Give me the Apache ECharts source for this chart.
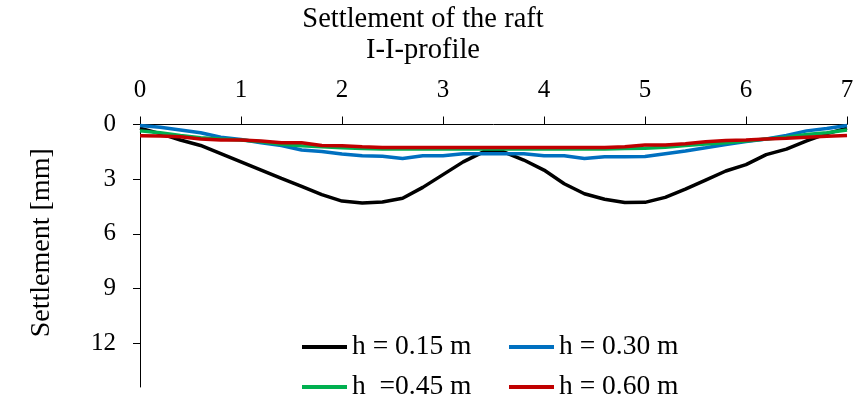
<!DOCTYPE html>
<html>
<head>
<meta charset="utf-8">
<script src="https://cdn.jsdelivr.net/npm/echarts@6/dist/echarts.min.js"></script>
<style>
  html, body { margin: 0; padding: 0; background: #ffffff; }
  #chart { width: 861px; height: 398px; }
</style>
</head>
<body>
<div id="chart"></div>
<script>
// Distance along the I-I profile [m]
const distance = [0, 0.2, 0.4, 0.6, 0.8, 1.0, 1.2, 1.4, 1.6, 1.8, 2.0, 2.2, 2.4, 2.6, 2.8, 3.0, 3.2, 3.4,
                  3.6, 3.8, 4.0, 4.2, 4.4, 4.6, 4.8, 5.0, 5.2, 5.4, 5.6, 5.8, 6.0, 6.2, 6.4, 6.6, 6.8, 7.0];

// Settlement [mm] for each raft thickness
const h015 = [0.2, 0.5, 0.85, 1.15, 1.6, 2.05, 2.5, 2.96, 3.4, 3.85, 4.2, 4.3, 4.25, 4.05, 3.45, 2.75, 2.05, 1.5,
              1.5, 1.95, 2.5, 3.25, 3.8, 4.1, 4.28, 4.27, 4.0, 3.55, 3.05, 2.55, 2.2, 1.65, 1.35, 0.9, 0.5, 0.2];
const h030 = [0.05, 0.15, 0.3, 0.45, 0.7, 0.82, 1.0, 1.15, 1.4, 1.48, 1.62, 1.72, 1.74, 1.86, 1.72, 1.72, 1.6, 1.6,
              1.6, 1.6, 1.72, 1.72, 1.86, 1.77, 1.77, 1.75, 1.6, 1.45, 1.28, 1.1, 0.94, 0.8, 0.6, 0.35, 0.22, 0.05];
const h045 = [0.35, 0.45, 0.6, 0.72, 0.8, 0.85, 0.95, 1.08, 1.17, 1.22, 1.28, 1.32, 1.35, 1.35, 1.35, 1.35, 1.35, 1.35,
              1.35, 1.35, 1.35, 1.35, 1.35, 1.35, 1.32, 1.3, 1.25, 1.15, 1.07, 1.0, 0.9, 0.8, 0.7, 0.55, 0.45, 0.3];
const h060 = [0.62, 0.63, 0.67, 0.8, 0.85, 0.85, 0.9, 1.0, 1.0, 1.15, 1.17, 1.22, 1.26, 1.26, 1.26, 1.26, 1.26, 1.26,
              1.26, 1.26, 1.26, 1.26, 1.26, 1.26, 1.22, 1.13, 1.13, 1.05, 0.95, 0.88, 0.85, 0.8, 0.76, 0.7, 0.65, 0.6];

const seriesNames = ['h = 0.15 m', 'h = 0.30 m', 'h  =0.45 m', 'h = 0.60 m'];
const seriesColors = ['#000000', '#0070C0', '#00B050', '#C00000'];
const seriesValues = [h015, h030, h045, h060];

const xTicks = [0, 1, 2, 3, 4, 5, 6, 7];
const yTicks = [0, 3, 6, 9, 12];

const FONT = '"Liberation Serif", "Times New Roman", serif';

const chart = echarts.init(document.getElementById('chart'), null, { renderer: 'canvas' });

// Legend laid out as a 2 x 2 block inside the plot area
const legendSlots = [
  { left: 297, top: 328 }, { left: 504, top: 328 },
  { left: 297, top: 368 }, { left: 504, top: 368 }
];

chart.setOption({
  animation: false,
  backgroundColor: '#ffffff',
  title: {
    text: 'Settlement of the raft\nI-I-profile',
    left: 418,
    top: -1,
    textAlign: 'center',
    textStyle: { fontFamily: FONT, fontSize: 28.5, fontWeight: 'normal', color: '#000', lineHeight: 31 }
  },
  grid: { left: 140, right: 14, top: 124.5, bottom: 11, containLabel: false },
  legend: seriesNames.map((name, i) => ({
    left: legendSlots[i].left, top: legendSlots[i].top,
    itemWidth: 45, itemHeight: 4, itemGap: 5, icon: 'rect',
    data: [name],
    textStyle: { fontFamily: FONT, fontSize: 27.5, color: '#000', lineHeight: 28 }
  })),
  xAxis: {
    type: 'value', position: 'top', min: xTicks[0], max: xTicks[xTicks.length - 1], interval: 1,
    axisLine: { lineStyle: { color: '#000', width: 1 } },
    axisTick: { show: true, length: 8, lineStyle: { color: '#000' } },
    axisLabel: { fontFamily: FONT, fontSize: 25, color: '#000', margin: 22 },
    splitLine: { show: false }
  },
  yAxis: {
    type: 'value', inverse: true, min: 0, max: 14.4,
    name: 'Settlement [mm]', nameLocation: 'middle', nameGap: 84,
    nameTextStyle: { fontFamily: FONT, fontSize: 28, color: '#000', padding: [0, 0, 0, 26] },
    axisLine: { show: true, lineStyle: { color: '#000', width: 1 } },
    axisTick: { show: true, length: 7, customValues: yTicks, lineStyle: { color: '#000' } },
    axisLabel: { fontFamily: FONT, fontSize: 25, color: '#000', margin: 24, customValues: yTicks },
    splitLine: { show: false }
  },
  series: seriesValues.map((vals, i) => ({
    name: seriesNames[i],
    type: 'line',
    data: distance.map((d, k) => [d, vals[k]]),
    showSymbol: false,
    symbol: 'none',
    color: seriesColors[i],
    lineStyle: { color: seriesColors[i], width: 3.5 },
    z: 2 + i
  }))
});
</script>
</body>
</html>
